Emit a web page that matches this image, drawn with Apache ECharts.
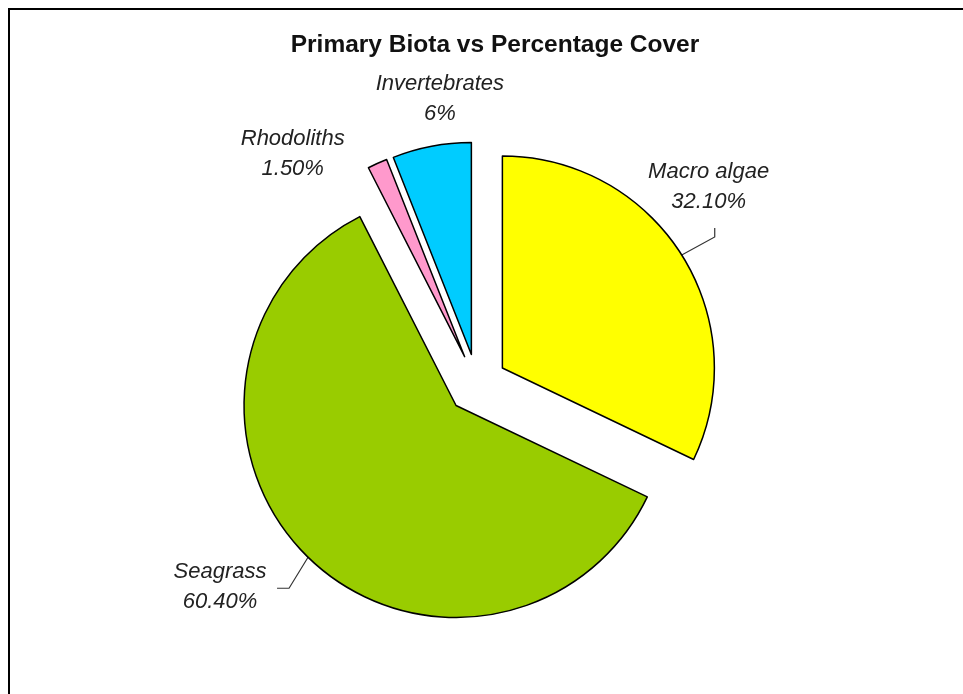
<!DOCTYPE html>
<html>
<head>
<meta charset="UTF-8">
<title>Primary Biota vs Percentage Cover</title>
<script src="https://cdn.jsdelivr.net/npm/echarts@6/dist/echarts.min.js"></script>
<style>
  html, body { margin: 0; padding: 0; background: #fff; }
  #main { width: 963px; height: 694px; }
</style>
</head>
<body>
<div id="main"></div>
<script>
// data
var biota = ['Macro algae', 'Seagrass', 'Rhodoliths', 'Invertebrates'];
var cover = [32.1, 60.4, 1.5, 6];
var coverText = ['32.10%', '60.40%', '1.50%', '6%'];
var sliceColors = ['#ffff00', '#99cc00', '#ff99cc', '#00ccff'];

// pie geometry (px)
var pieCenter = [477, 384];
var pieRadius = 212;
var explode = 30;

// excel style leaders: a bend away from the arc, then a short tail
var leaderBend = [[33, -18], [-19, 31], null, null];
var leaderTail = [[0, -9], [-12, 0], null, null];
// move labels from echarts' own outside spot
var labelNudge = [[-7, -57], [-57, 15], [3, -37], [29, -28]];

var total = cover.reduce(function (a, b) { return a + b; }, 0);
var midAngle = [];
var acc = 0;
cover.forEach(function (v) {
  midAngle.push((acc + v / 2) / total * 2 * Math.PI);
  acc += v;
});

// middle of the slice's outer arc, in the slice's own (not exploded) frame
function arcPoint(i) {
  var a = midAngle[i];
  return [pieCenter[0] + pieRadius * Math.sin(a), pieCenter[1] - pieRadius * Math.cos(a)];
}

var chart = echarts.init(document.getElementById('main'));

var pieData = biota.map(function (name, i) {
  return {
    name: name,
    value: cover[i],
    selected: true,
    itemStyle: { color: sliceColors[i] },
    select: { itemStyle: { color: sliceColors[i] } },
    labelLine: { show: leaderBend[i] != null }
  };
});

var option = {
  animation: false,
  title: {
    text: 'Primary Biota vs Percentage Cover',
    left: 490,
    top: 28,
    textAlign: 'center',
    textStyle: {
      fontFamily: 'Liberation Sans',
      fontSize: 24.5,
      fontWeight: 'bold',
      color: '#111'
    }
  },
  graphic: [{
    type: 'polyline',
    silent: true,
    shape: { points: [[9, 694], [9, 9], [963, 9]] },
    style: { stroke: '#000', lineWidth: 2, fill: null }
  }],
  series: [{
    type: 'pie',
    center: pieCenter,
    radius: pieRadius,
    startAngle: 90,
    clockwise: true,
    selectedMode: 'multiple',
    selectedOffset: explode,
    emphasis: { scale: false },
    itemStyle: { borderColor: '#000', borderWidth: 1.5 },
    select: { itemStyle: { borderColor: '#000', borderWidth: 1.5 } },
    label: {
      show: true,
      position: 'outside',
      fontFamily: 'Liberation Sans',
      fontStyle: 'italic',
      fontSize: 22,
      lineHeight: 30,
      color: '#222',
      formatter: function (p) {
        return p.name + '\n' + coverText[p.dataIndex];
      }
    },
    labelLine: {
      length: 20,
      length2: 12,
      lineStyle: { color: '#333', width: 1.2 }
    },
    labelLayout: function (p) {
      var i = p.dataIndex;
      var out = {
        dx: labelNudge[i][0],
        dy: labelNudge[i][1],
        align: 'center',
        verticalAlign: 'middle'
      };
      if (leaderBend[i]) {
        var e = arcPoint(i);
        var b = [e[0] + leaderBend[i][0], e[1] + leaderBend[i][1]];
        var t = [b[0] + leaderTail[i][0], b[1] + leaderTail[i][1]];
        out.labelLinePoints = [e, b, t];
      }
      return out;
    },
    data: pieData
  }]
};

chart.setOption(option);
</script>
</body>
</html>
